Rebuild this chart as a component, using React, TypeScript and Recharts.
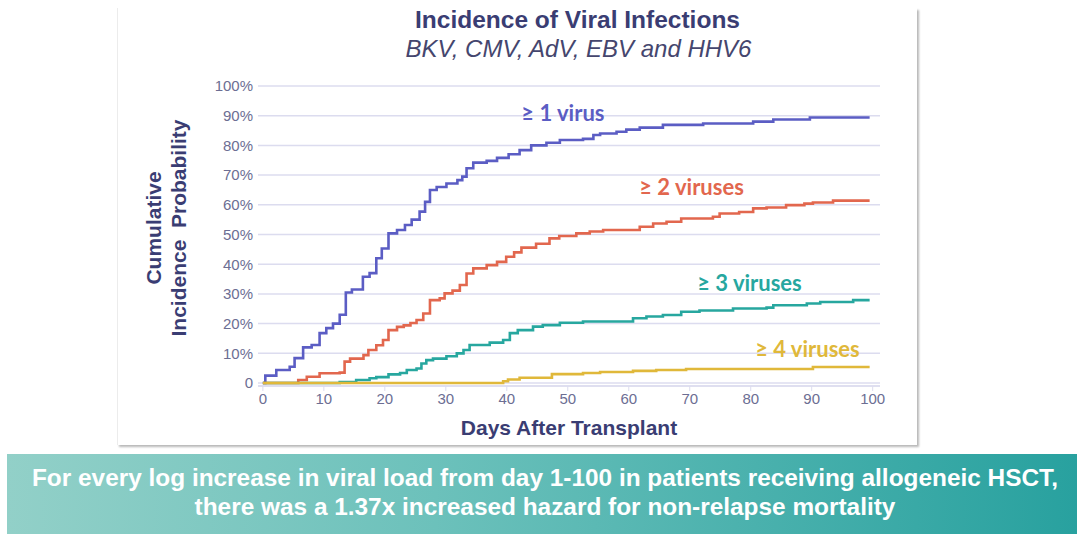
import React from "react";
import { LineChart, Line, XAxis, YAxis, CartesianGrid, ReferenceDot } from "recharts";

// ≥ 1 virus
const oneDays = [0, 0.4, 2.2, 4.4, 5.2, 6.6, 8, 9.3, 10.4, 11.5, 12.6, 13.6, 14.6, 16.4, 17.5, 18.6, 19.5, 20.6, 22, 23.3, 24.4, 25.7, 26.6, 27.4, 28.5, 30.1, 31.9, 32.7, 33.4, 34.5, 36.7, 38.4, 40.3, 42.1, 44, 46.5, 48.7, 52.5, 54.2, 55.3, 58, 59.6, 61.8, 65.6, 72.2, 80.4, 83.7, 89.7, 99.5];
const onePct = [0, 2.5, 4.4, 5.5, 8.4, 12, 12.8, 16.8, 18.5, 20, 23, 30.5, 31.5, 35.8, 37, 42, 45.3, 50.4, 51.5, 53.2, 55, 57.7, 61, 65, 66, 67.2, 68.3, 69.5, 72.3, 74.2, 74.8, 75.8, 77, 78.4, 80, 80.9, 81.8, 82.2, 83.5, 84, 84.6, 85.3, 86, 86.9, 87.4, 88, 88.7, 89.4, 89.4];

// ≥ 2 viruses
const twoDays = [0, 5.8, 7.2, 9.3, 12.6, 13.4, 14.3, 16.5, 17.3, 18.6, 19.7, 20.6, 22, 23.1, 24.2, 25.2, 26.3, 27.4, 29, 29.8, 31.1, 32.3, 33.4, 34.5, 36.7, 38.4, 39.9, 41.2, 42.4, 44.8, 47, 48.6, 51.4, 53.6, 55.8, 61.8, 64, 66.2, 68.6, 73.8, 74.9, 78.1, 80.4, 82.6, 85.8, 88.8, 90.2, 93.5, 99.5];
const twoPct = [0, 1, 2.1, 3.3, 3.5, 7.2, 8.2, 9.4, 11.1, 12.7, 14.5, 17.8, 18.9, 19.4, 20.2, 21.2, 23.4, 27.9, 28.5, 30.2, 31.1, 33, 36.9, 38.6, 39.7, 40.8, 42.5, 44, 45.6, 46.9, 48.7, 49.5, 50.4, 51, 51.5, 52.6, 53.7, 54.3, 55.4, 56, 57.1, 57.6, 58.8, 59.1, 59.9, 60.4, 60.8, 61.4, 61.4];

// ≥ 3 viruses
const threeDays = [0, 12.6, 15.3, 17.5, 18.6, 20.6, 22.5, 23.6, 25.2, 26, 26.8, 27.9, 30.1, 31.8, 32.9, 33.9, 37.2, 39.4, 40.5, 41.8, 44.3, 45.9, 48.7, 52.5, 60.7, 62.9, 65.6, 68.6, 71.6, 77.1, 82.6, 83.7, 89.2, 91.4, 96.8, 99.5];
const threePct = [0, 0.3, 1, 1.6, 2, 2.9, 3.4, 4.4, 4.9, 6.6, 7.7, 8.2, 9, 10, 11.1, 12.8, 13.6, 14.5, 16.8, 17.8, 19, 19.5, 20.3, 20.7, 21.8, 22.4, 22.9, 24, 24.4, 25.1, 25.4, 26.2, 26.8, 27.3, 27.9, 27.9];

// ≥ 4 viruses
const fourDays = [0, 39.4, 40.2, 42.1, 47.4, 52.5, 55.3, 60.7, 64.5, 69.4, 90.2, 99.5];
const fourPct = [0, 0.6, 1.2, 1.8, 3, 3.4, 3.7, 4.1, 4.4, 4.7, 5.4, 5.4];

const xTicks = [0, 10, 20, 30, 40, 50, 60, 70, 80, 90, 100];
const yTicks = [0, 10, 20, 30, 40, 50, 60, 70, 80, 90, 100];

const curveNames = ["≥ 1 virus", "≥ 2 viruses", "≥ 3 viruses", "≥ 4 viruses"];
const curveColors = ["#5b5dc4", "#e2674e", "#27a79f", "#e0b83a"];
const labelDays = [49.2, 70.3, 79.8, 89.3];
const labelPct = [91, 66, 33.6, 11.4];

const toSeries = (days: number[], pct: number[]) => days.map((d, i) => ({ day: d, value: pct[i] }));
const series = [
  toSeries(oneDays, onePct),
  toSeries(twoDays, twoPct),
  toSeries(threeDays, threePct),
  toSeries(fourDays, fourPct),
];

const navy = "#3a3d73";
const sans = "'Liberation Sans', Arial, sans-serif";
const tickStyle = { fontSize: 15, fill: "#6c6e93", fontFamily: sans };

export default function App() {
  return (
    <div style={{ position: "absolute", left: 0, top: 0, width: 1077, height: 534, overflow: "hidden", background: "#fff" }}>
      {/* card */}
      <div
        style={{
          position: "absolute",
          left: 117,
          top: 8,
          width: 799,
          height: 437,
          background: "#fff",
          borderLeft: "1px solid #ececec",
          boxShadow: "2px 2px 2px rgba(0,0,0,0.28)",
        }}
      />
      <div style={{ position: "absolute", left: 0, width: 1155, top: 6, textAlign: "center", fontFamily: sans, color: navy, fontSize: 24.5, fontWeight: 700 }}>
        Incidence of Viral Infections
      </div>
      <div style={{ position: "absolute", left: 0, width: 1157, top: 35, textAlign: "center", fontFamily: sans, fontSize: 24, fontStyle: "italic", color: "#45466e" }}>
        BKV, CMV, AdV, EBV and HHV6
      </div>

      {/* y axis title */}
      <div
        style={{
          position: "absolute",
          left: 166 - 150,
          top: 228 - 25,
          width: 300,
          height: 50,
          transform: "rotate(-90deg)",
          textAlign: "center",
          fontFamily: sans,
          fontWeight: 700,
          fontSize: 21,
          lineHeight: "25px",
          color: navy,
        }}
      >
        Cumulative
        <br />
        Incidence&nbsp; Probability
      </div>

      <div style={{ position: "absolute", left: 0, top: 0 }}>
        <LineChart width={1077} height={445} margin={{ top: 86, right: 197, bottom: 0, left: 198 }}>
          <CartesianGrid horizontal vertical={false} stroke="#dcdcef" strokeWidth={1.5} />
          <XAxis
            type="number"
            dataKey="day"
            domain={[-0.8, 101.2]}
            ticks={xTicks}
            allowDuplicatedCategory={false}
            tick={tickStyle}
            tickLine={{ stroke: "#dcdcef" }}
            axisLine={{ stroke: "#dcdcef", strokeWidth: 1.5 }}
            tickSize={5}
            tickMargin={2}
            height={59}
            label={{
              value: "Days After Transplant",
              position: "insideBottom",
              offset: 10,
              style: { fontSize: 21, fontWeight: 700, fill: navy, fontFamily: sans },
            }}
          />
          <YAxis
            type="number"
            dataKey="value"
            domain={[-1, 100]}
            ticks={yTicks}
            width={60}
            axisLine={false}
            tickLine={false}
            tickSize={0}
            tickMargin={5}
            tick={tickStyle}
            tickFormatter={(v: number) => (v === 0 ? "0" : `${v}%`)}
          />
          {series.map((s, i) => (
            <Line
              key={curveNames[i]}
              data={s}
              dataKey="value"
              type="stepAfter"
              stroke={curveColors[i]}
              strokeWidth={2.6}
              dot={false}
              isAnimationActive={false}
            />
          ))}
          {curveNames.map((n, i) => (
            <ReferenceDot
              key={n}
              x={labelDays[i]}
              y={labelPct[i]}
              r={0}
              fill="none"
              stroke="none"
              label={{
                value: n,
                position: "center",
                style: { fontSize: 22, fontWeight: 700, fill: curveColors[i], fontFamily: "Lato, 'Open Sans', sans-serif" },
              }}
            />
          ))}
        </LineChart>
      </div>

      {/* banner */}
      <div
        style={{
          position: "absolute",
          left: 7,
          top: 454,
          width: 1070,
          height: 80,
          background: "linear-gradient(90deg, #92d0c8 0%, #6cc1bb 40%, #28a19f 100%)",
          color: "#fff",
          textAlign: "center",
          fontFamily: sans,
          fontWeight: 700,
          fontSize: 24.4,
          lineHeight: "29px",
          paddingTop: 9,
          boxSizing: "border-box",
        }}
      >
        <div style={{ marginLeft: 6, whiteSpace: "nowrap" }}>
          For every log increase in viral load from day 1-100 in patients receiving allogeneic HSCT,
          <br />
          there was a 1.37x increased hazard for non-relapse mortality
        </div>
      </div>
    </div>
  );
}
